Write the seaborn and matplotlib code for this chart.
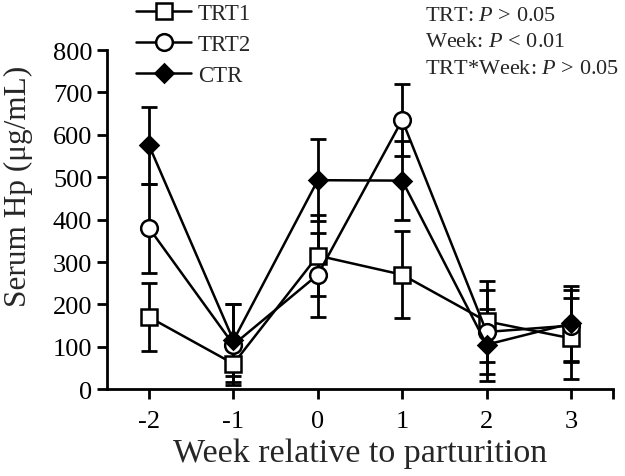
import numpy as np
import pandas as pd
import matplotlib
matplotlib.use("Agg")
import matplotlib.pyplot as plt
import seaborn as sns

sns.set_style("white")
plt.rcParams["font.family"] = ["Liberation Serif", "DejaVu Serif"]
plt.rcParams["mathtext.fontset"] = "custom"
plt.rcParams["mathtext.it"] = "Liberation Serif:italic"
plt.rcParams["mathtext.rm"] = "Liberation Serif"
plt.rcParams["axes.unicode_minus"] = False

# ====================================
# DATA
# ====================================

weeks = [-2, -1, 0, 1, 2, 3]

trt1_mean = [170, 60, 315, 270, 160, 120]
trt1_err = [80, 42, 95, 103, 95, 96]

trt2_mean = [380, 105, 270, 635, 135, 150]
trt2_err = [105, 95, 99, 86, 100, 85]

ctr_mean = [575, 115, 493, 492, 105, 155]
ctr_err = [90, 85, 97, 93, 85, 88]

groups = ["TRT1", "TRT2", "CTR"]

df = pd.DataFrame({
    "week": weeks * 3,
    "hp": trt1_mean + trt2_mean + ctr_mean,
    "err": trt1_err + trt2_err + ctr_err,
    "group": np.repeat(groups, len(weeks)),
})

styles = {
    "TRT1": dict(marker="s", mfc="white", ms=11.5),
    "TRT2": dict(marker="o", mfc="white", ms=12),
    "CTR": dict(marker="D", mfc="black", ms=9.5),
}

# ====================================
# PLOT
# ====================================

fig = plt.figure(figsize=(6.25, 4.77), dpi=100)
ax = fig.add_axes([0.171, 0.182, 0.81, 0.711])

handles = []
for g in groups:
    sub = df[df["group"] == g]
    st = styles[g]
    ax.errorbar(sub["week"], sub["hp"], yerr=sub["err"], fmt="none",
                ecolor="black", elinewidth=2.0, capsize=5.5, capthick=2.0,
                zorder=2)
    sns.lineplot(data=sub, x="week", y="hp", ax=ax, color="black",
                 linewidth=1.8, marker=st["marker"], markersize=st["ms"],
                 markerfacecolor=st["mfc"], markeredgecolor="black",
                 markeredgewidth=1.8, zorder=3, label=g, legend=False)
    handles.append(ax.lines[-1])

ax.set_xlim(-2.5, 3.5)
ax.set_ylim(0, 800)
ax.set_xticks(weeks)
ax.set_xticks([3.5], minor=True)
ax.set_yticks(range(0, 801, 100))

for s in ["top", "right"]:
    ax.spines[s].set_visible(False)
for s in ["left", "bottom"]:
    ax.spines[s].set_linewidth(2.0)
    ax.spines[s].set_color("black")

ax.tick_params(axis="both", which="both", direction="out", width=2.0,
               length=7, labelsize=19, colors="black",
               bottom=True, left=True)
ax.tick_params(axis="x", pad=8)

ax.set_xlabel("Week relative to parturition", fontsize=24.5)
ax.xaxis.set_label_coords(0.5, -0.142)
ax.set_ylabel("Serum Hp (\u03bcg/mL)", fontsize=22.5)
ax.yaxis.set_label_coords(-0.145, 0.6)

fig.legend(handles=handles, labels=groups, loc="upper left",
           bbox_to_anchor=(0.203, 1.01), frameon=False, fontsize=16.5,
           handlelength=2.4, handletextpad=0.3, labelspacing=0.42,
           borderaxespad=0)

notes = ["TRT: $P$ > 0.05", "Week: $P$ < 0.01", "TRT*Week: $P$ > 0.05"]
for i, t in enumerate(notes):
    fig.text(0.68, 0.966 - i * 0.056, t, fontsize=16, va="center",
             ha="left")

fig.savefig("out.png", dpi=100)
